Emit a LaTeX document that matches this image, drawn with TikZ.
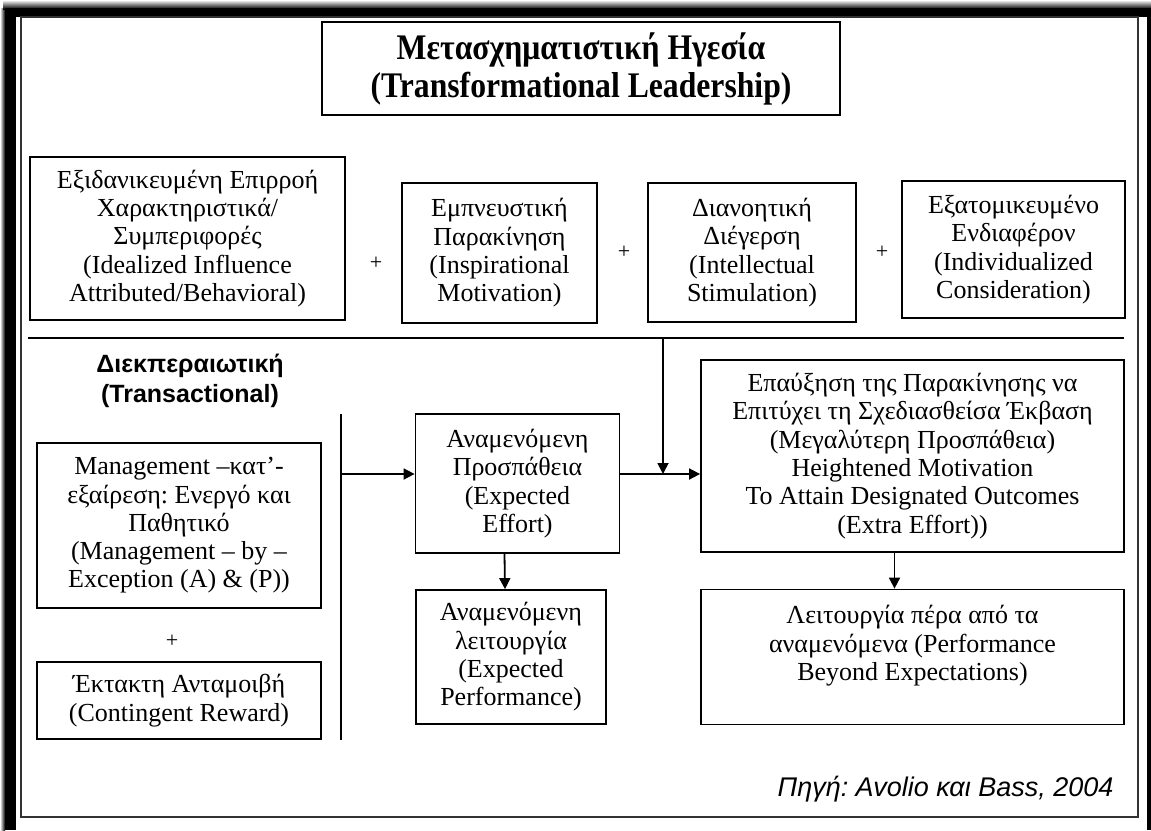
\documentclass[tikz,border=0pt]{standalone}
\usepackage{fontspec}
\setmainfont{Liberation Serif}
\setsansfont{Liberation Sans}
\newfontfamily\titlefont[FakeStretch=0.88]{Liberation Serif}
\usetikzlibrary{arrows.meta,positioning,calc}
\frenchspacing

\begin{document}
\begin{tikzpicture}[
  x=1pt, y=-1pt, >={Triangle[length=11pt,width=11pt]},
  box/.style={draw,line width=1.8pt,align=center,inner sep=0pt,
    font=\fontsize{26}{28.3}\selectfont},
  plus/.style={font=\fontsize{22}{24}\selectfont},
  arr/.style={->,line width=1.8pt},
  rule/.style={line width=1.8pt}
]
\useasboundingbox (0,0) rectangle (1151,830);

% frame with shadow
\fill[left color=white,right color=black] (0,8) rectangle (5,830);
\fill[top color=white,bottom color=black] (3,0) rectangle (1151,9);
\fill[black] (5,8) rectangle (16,830);
\fill[black] (5,8) rectangle (1151,17);
\fill[black] (1147,8) rectangle (1151,830);
\draw[line width=2pt,draw=black!80] (21,17) rectangle (1138,817);

\node[box,minimum width=518pt,minimum height=93pt,
  font=\titlefont\bfseries\fontsize{36}{38}\selectfont] (title) at (581,68.5)
 {Μετασχηματιστική Ηγεσία\\(Transformational Leadership)};

\node[box,minimum width=315pt,minimum height=163pt] (ideal) at (187.5,238.5)
 {Εξιδανικευμένη Επιρροή\\Χαρακτηριστικά/\\Συμπεριφορές\\(Idealized Influence\\Attributed/Behavioral)};
\node[box,minimum width=195pt,minimum height=140pt] (insp) at (499.5,253)
 {Εμπνευστική\\Παρακίνηση\\(Inspirational\\Motivation)};
\node[box,minimum width=208pt,minimum height=139pt] (intel) at (752,252.5)
 {Διανοητική\\Διέγερση\\(Intellectual\\Stimulation)};
\node[box,minimum width=223pt,minimum height=137pt] (indiv) at (1013.5,249.5)
 {Εξατομικευμένο\\Ενδιαφέρον\\(Individualized\\Consideration)};
\node[plus] (p1) at (376,263) {+};
\node[plus] (p2) at (624,252) {+};
\node[plus] (p3) at (882,252) {+};

\coordinate (sepL) at (28,338);
\coordinate (sepR) at (1124,338);
\coordinate (split) at (663,338);
\draw[rule] (sepL) -- (sepR);

\node[font=\sffamily\bfseries\fontsize{25}{30}\selectfont,align=center] (trans) at (190,381)
 {Διεκπεραιωτική\\(Transactional)};

\node[box,minimum width=284pt,minimum height=165pt] (mbe) at (179,525.5)
 {Management –κατ’-\\εξαίρεση: Ενεργό και\\Παθητικό\\(Management – by –\\Exception (A) \& (P))};
\node[plus] (p4) at (172,641) {+};
\node[box,minimum width=284pt,minimum height=77pt] (reward) at (179,700.5)
 {Έκτακτη Ανταμοιβή\\(Contingent Reward)};

\coordinate (barTop) at (341,414);
\coordinate (barMid) at (341,474);
\coordinate (barLow) at (341,740);
\draw[rule] (barTop) -- (barLow);

\node[box,minimum width=204pt,minimum height=139pt] (effort) at (517.5,483.5)
 {Αναμενόμενη\\Προσπάθεια\\(Expected\\Effort)};
\node[box,minimum width=190pt,minimum height=134pt] (perf) at (511,657)
 {Αναμενόμενη\\λειτουργία\\(Expected\\Performance)};
\node[box,minimum width=423pt,minimum height=192pt] (extra) at (912.5,456)
 {Επαύξηση της Παρακίνησης να\\Επιτύχει τη Σχεδιασθείσα Έκβαση\\(Μεγαλύτερη Προσπάθεια)\\Heightened Motivation\\To Attain Designated Outcomes\\(Extra Effort))};
\node[box,minimum width=423pt,minimum height=135pt] (beyond) at (912.5,657)
 {Λειτουργία πέρα από τα\\αναμενόμενα (Performance\\Beyond Expectations)\\~};

\draw[arr] (barMid) -- (barMid -| effort.west);
\draw[arr] (barMid -| effort.east) -- (barMid -| extra.west);
\draw[arr] (split) -- (split |- barMid);
\draw[arr] ([xshift=-13pt]effort.south) -- ([xshift=-6pt]perf.north);
\draw[arr] ([xshift=-18pt]extra.south) -- ([xshift=-18pt]beyond.north);

\node[font=\sffamily\itshape\fontsize{27}{30}\selectfont,anchor=east] (src) at (1117,789)
 {Πηγή: Avolio και Bass, 2004};
\end{tikzpicture}
\end{document}
